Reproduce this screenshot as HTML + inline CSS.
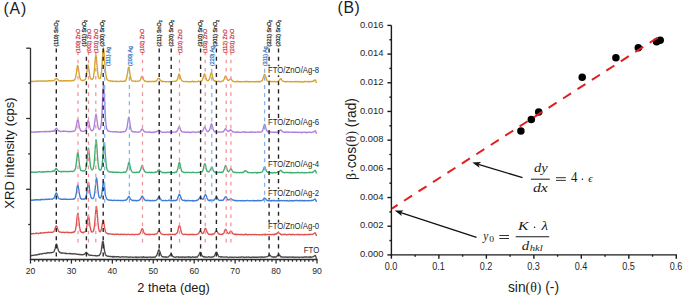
<!DOCTYPE html>
<html><head><meta charset="utf-8"><style>
html,body{margin:0;padding:0;background:#fff;width:685px;height:297px;overflow:hidden}
svg{display:block;font-family:"Liberation Sans",sans-serif}
</style></head><body>
<svg xmlns="http://www.w3.org/2000/svg" width="685" height="297" viewBox="0 0 685 297">
<rect width="685" height="297" fill="#fff"/>
<polyline fill="none" stroke="#4a4a4a" stroke-width="1.35" stroke-linejoin="round" points="30.5,256.16 31.0,255.84 31.5,255.70 32.0,255.27 32.5,255.47 33.0,255.38 33.5,255.34 34.0,255.16 34.5,255.18 35.0,255.01 35.5,254.77 36.0,255.07 36.5,254.98 37.0,255.04 37.5,254.65 38.0,254.47 38.5,254.35 39.0,254.08 39.5,254.44 40.0,253.98 40.5,253.87 41.0,253.96 41.5,254.17 42.0,253.86 42.5,253.55 43.0,253.52 43.5,253.68 44.0,253.47 44.5,253.28 45.0,253.31 45.5,253.41 46.0,253.57 46.5,252.93 47.0,252.98 47.5,252.89 48.0,252.55 48.5,252.77 49.0,252.71 49.5,253.05 50.0,252.78 50.5,252.47 51.0,252.84 51.5,252.62 52.0,252.32 52.5,252.45 53.0,252.32 53.5,252.02 54.0,251.65 54.5,250.23 55.0,248.95 55.5,247.04 56.0,244.96 56.5,244.10 57.0,245.03 57.5,247.18 58.0,248.87 58.5,250.88 59.0,251.43 59.5,252.21 60.0,252.25 60.5,252.93 61.0,253.08 61.5,252.88 62.0,253.29 62.5,252.90 63.0,253.10 63.5,253.14 64.0,252.97 64.5,253.28 65.0,253.59 65.5,253.10 66.0,253.48 66.5,253.33 67.0,253.72 67.5,253.53 68.0,253.60 68.5,253.63 69.0,253.60 69.5,253.35 70.0,253.89 70.5,253.43 71.0,253.77 71.5,253.88 72.0,253.66 72.5,253.88 73.0,254.10 73.5,253.93 74.0,253.82 74.5,253.50 75.0,253.89 75.5,254.00 76.0,254.06 76.5,254.03 77.0,254.31 77.5,254.18 78.0,254.31 78.5,254.49 79.0,254.26 79.5,254.40 80.0,254.88 80.5,254.69 81.0,254.34 81.5,254.59 82.0,254.74 82.5,254.88 83.0,254.68 83.5,254.52 84.0,254.34 84.5,254.29 85.0,253.75 85.5,252.99 86.0,252.51 86.5,252.35 87.0,252.96 87.5,253.39 88.0,254.27 88.5,254.82 89.0,255.07 89.5,255.01 90.0,255.50 90.5,255.21 91.0,255.46 91.5,255.30 92.0,255.16 92.5,255.56 93.0,255.61 93.5,255.57 94.0,255.67 94.5,255.53 95.0,255.53 95.5,255.65 96.0,256.04 96.5,255.85 97.0,255.61 97.5,255.79 98.0,255.57 98.5,255.52 99.0,255.65 99.5,255.19 100.0,254.50 100.5,253.63 101.0,251.92 101.5,248.96 102.0,245.47 102.5,241.87 103.0,241.20 103.5,243.27 104.0,246.85 104.5,250.57 105.0,253.10 105.5,254.41 106.0,255.57 106.5,255.56 107.0,256.01 107.5,256.14 108.0,256.31 108.5,256.18 109.0,256.37 109.5,256.41 110.0,256.66 110.5,256.38 111.0,256.57 111.5,256.55 112.0,256.39 112.5,257.13 113.0,256.66 113.5,256.43 114.0,256.98 114.5,256.55 115.0,256.83 115.5,256.94 116.0,256.69 116.5,256.74 117.0,256.74 117.5,256.83 118.0,256.57 118.5,256.66 119.0,256.87 119.5,257.09 120.0,257.03 120.5,257.24 121.0,257.07 121.5,256.86 122.0,256.94 122.5,256.61 123.0,256.81 123.5,256.81 124.0,257.05 124.5,257.13 125.0,256.92 125.5,256.92 126.0,256.75 126.5,257.02 127.0,257.09 127.5,257.13 128.0,256.92 128.5,257.42 129.0,257.28 129.5,257.06 130.0,256.99 130.5,257.03 131.0,257.12 131.5,257.09 132.0,257.19 132.5,257.24 133.0,257.35 133.5,257.32 134.0,257.09 134.5,257.19 135.0,257.05 135.5,257.02 136.0,257.47 136.5,257.04 137.0,257.49 137.5,257.07 138.0,257.18 138.5,257.33 139.0,257.14 139.5,257.21 140.0,257.10 140.5,257.06 141.0,257.11 141.5,257.03 142.0,257.44 142.5,257.11 143.0,257.45 143.5,256.66 144.0,257.15 144.5,257.24 145.0,257.09 145.5,257.34 146.0,257.26 146.5,257.09 147.0,257.22 147.5,257.64 148.0,257.18 148.5,257.18 149.0,257.05 149.5,257.14 150.0,256.88 150.5,257.07 151.0,257.54 151.5,257.28 152.0,257.19 152.5,257.26 153.0,257.38 153.5,257.12 154.0,257.36 154.5,257.13 155.0,256.89 155.5,257.03 156.0,256.01 156.5,255.78 157.0,254.97 157.5,253.35 158.0,251.79 158.5,250.28 159.0,249.74 159.5,250.87 160.0,251.84 160.5,253.37 161.0,255.03 161.5,255.74 162.0,256.53 162.5,256.74 163.0,257.12 163.5,256.65 164.0,257.09 164.5,257.00 165.0,256.79 165.5,257.20 166.0,256.86 166.5,257.31 167.0,257.10 167.5,257.10 168.0,256.92 168.5,256.92 169.0,256.12 169.5,255.96 170.0,255.14 170.5,254.58 171.0,254.10 171.5,254.42 172.0,254.81 172.5,256.04 173.0,256.72 173.5,256.65 174.0,256.89 174.5,257.05 175.0,257.28 175.5,257.42 176.0,256.88 176.5,257.00 177.0,256.93 177.5,256.93 178.0,256.84 178.5,257.21 179.0,256.94 179.5,257.42 180.0,257.31 180.5,256.97 181.0,256.97 181.5,257.05 182.0,257.41 182.5,257.01 183.0,256.89 183.5,257.15 184.0,257.23 184.5,257.04 185.0,257.45 185.5,257.21 186.0,257.24 186.5,257.01 187.0,257.15 187.5,257.13 188.0,256.75 188.5,257.21 189.0,256.83 189.5,257.15 190.0,256.89 190.5,257.51 191.0,257.21 191.5,257.30 192.0,257.30 192.5,256.90 193.0,256.72 193.5,257.06 194.0,257.27 194.5,257.11 195.0,257.22 195.5,257.23 196.0,256.76 196.5,257.03 197.0,257.24 197.5,256.60 198.0,255.95 198.5,255.60 199.0,254.54 199.5,253.51 200.0,252.33 200.5,252.40 201.0,252.80 201.5,254.54 202.0,255.75 202.5,256.44 203.0,256.36 203.5,256.91 204.0,256.42 204.5,257.06 205.0,257.03 205.5,256.88 206.0,257.14 206.5,257.11 207.0,257.26 207.5,257.12 208.0,257.14 208.5,256.75 209.0,256.89 209.5,257.01 210.0,257.14 210.5,257.07 211.0,257.33 211.5,256.89 212.0,256.97 212.5,257.02 213.0,256.85 213.5,256.81 214.0,256.26 214.5,255.97 215.0,254.65 215.5,253.65 216.0,252.34 216.5,252.29 217.0,252.48 217.5,254.06 218.0,255.08 218.5,256.07 219.0,256.76 219.5,256.61 220.0,256.70 220.5,256.83 221.0,257.09 221.5,256.73 222.0,257.11 222.5,256.87 223.0,256.91 223.5,257.06 224.0,257.20 224.5,257.03 225.0,257.06 225.5,257.14 226.0,257.11 226.5,256.68 227.0,257.09 227.5,257.18 228.0,257.37 228.5,257.54 229.0,257.29 229.5,257.19 230.0,257.00 230.5,257.19 231.0,257.32 231.5,257.41 232.0,257.02 232.5,257.22 233.0,257.33 233.5,257.52 234.0,257.23 234.5,257.09 235.0,257.06 235.5,257.12 236.0,257.07 236.5,257.33 237.0,257.38 237.5,257.32 238.0,257.40 238.5,257.10 239.0,257.26 239.5,257.12 240.0,257.19 240.5,257.41 241.0,257.18 241.5,256.85 242.0,257.14 242.5,257.06 243.0,256.92 243.5,257.05 244.0,257.36 244.5,257.49 245.0,257.10 245.5,257.37 246.0,257.40 246.5,256.98 247.0,257.18 247.5,257.18 248.0,257.22 248.5,256.90 249.0,257.13 249.5,257.38 250.0,257.42 250.5,257.52 251.0,257.13 251.5,257.52 252.0,257.31 252.5,256.94 253.0,257.32 253.5,257.12 254.0,257.28 254.5,257.17 255.0,257.40 255.5,257.23 256.0,257.13 256.5,257.36 257.0,257.23 257.5,257.11 258.0,257.41 258.5,257.11 259.0,257.06 259.5,257.08 260.0,256.91 260.5,257.07 261.0,257.51 261.5,257.00 262.0,257.17 262.5,256.96 263.0,257.04 263.5,257.42 264.0,257.30 264.5,257.02 265.0,257.12 265.5,256.95 266.0,256.92 266.5,256.82 267.0,256.66 267.5,256.60 268.0,256.20 268.5,255.63 269.0,255.02 269.5,254.67 270.0,255.21 270.5,255.59 271.0,256.44 271.5,256.75 272.0,257.01 272.5,256.92 273.0,256.71 273.5,257.22 274.0,257.28 274.5,256.78 275.0,257.04 275.5,257.17 276.0,256.63 276.5,256.86 277.0,256.02 277.5,255.26 278.0,255.04 278.5,254.46 279.0,254.47 279.5,255.34 280.0,255.51 280.5,256.73 281.0,256.60 281.5,256.99 282.0,256.96 282.5,257.16 283.0,257.26 283.5,256.97 284.0,257.27 284.5,257.09 285.0,257.03 285.5,257.12 286.0,256.98 286.5,257.02 287.0,257.34 287.5,257.14 288.0,257.38 288.5,257.25 289.0,256.99 289.5,256.84 290.0,257.06 290.5,257.23 291.0,257.18 291.5,257.03 292.0,257.37 292.5,256.87 293.0,256.96 293.5,257.21 294.0,257.58 294.5,257.26 295.0,257.01 295.5,257.29 296.0,257.31 296.5,257.36 297.0,257.11 297.5,257.04 298.0,257.21 298.5,257.26 299.0,257.48 299.5,257.56 300.0,257.06 300.5,257.09 301.0,257.18 301.5,257.14 302.0,257.28 302.5,257.28 303.0,257.23 303.5,257.43 304.0,257.16 304.5,257.00 305.0,256.90 305.5,257.00 306.0,256.99 306.5,256.84 307.0,257.30 307.5,257.21 308.0,257.10 308.5,257.01 309.0,256.88 309.5,257.00 310.0,257.49 310.5,256.75 311.0,257.16 311.5,257.25 312.0,257.09 312.5,256.92 313.0,256.93 313.5,256.31 314.0,256.23 314.5,256.02 315.0,255.41 315.5,255.61 316.0,257.15 316.5,258.88"/>
<polyline fill="none" stroke="#e0524f" stroke-width="1.35" stroke-linejoin="round" points="30.5,234.13 31.0,233.97 31.5,233.69 32.0,233.57 32.5,233.77 33.0,233.75 33.5,233.44 34.0,233.61 34.5,233.61 35.0,233.69 35.5,233.28 36.0,233.51 36.5,233.15 37.0,233.24 37.5,233.25 38.0,233.49 38.5,233.77 39.0,233.17 39.5,233.16 40.0,233.21 40.5,232.73 41.0,233.07 41.5,232.66 42.0,233.13 42.5,233.06 43.0,232.84 43.5,232.57 44.0,232.97 44.5,232.68 45.0,232.61 45.5,232.66 46.0,232.21 46.5,232.56 47.0,232.63 47.5,232.48 48.0,232.42 48.5,232.19 49.0,232.45 49.5,232.34 50.0,232.28 50.5,232.15 51.0,232.38 51.5,232.41 52.0,232.21 52.5,232.24 53.0,232.19 53.5,231.97 54.0,231.20 54.5,230.19 55.0,228.74 55.5,227.16 56.0,225.96 56.5,225.89 57.0,226.78 57.5,228.54 58.0,229.82 58.5,231.27 59.0,231.58 59.5,232.02 60.0,231.98 60.5,232.14 61.0,232.12 61.5,232.59 62.0,232.38 62.5,232.32 63.0,232.20 63.5,232.28 64.0,232.51 64.5,232.73 65.0,232.19 65.5,232.29 66.0,232.44 66.5,232.37 67.0,232.19 67.5,232.50 68.0,232.64 68.5,232.23 69.0,232.55 69.5,232.69 70.0,232.69 70.5,232.43 71.0,232.90 71.5,232.57 72.0,232.29 72.5,232.56 73.0,232.11 73.5,232.37 74.0,231.81 74.5,231.83 75.0,230.84 75.5,229.64 76.0,226.85 76.5,222.72 77.0,217.84 77.5,214.24 78.0,213.32 78.5,217.03 79.0,221.83 79.5,226.18 80.0,229.24 80.5,231.49 81.0,231.72 81.5,232.25 82.0,232.34 82.5,232.70 83.0,232.10 83.5,232.78 84.0,232.32 84.5,231.93 85.0,231.90 85.5,231.51 86.0,230.40 86.5,228.15 87.0,224.84 87.5,220.38 88.0,216.58 88.5,215.09 89.0,217.99 89.5,222.32 90.0,226.12 90.5,228.79 91.0,230.60 91.5,231.97 92.0,231.86 92.5,231.85 93.0,231.53 93.5,230.99 94.0,228.99 94.5,225.59 95.0,220.21 95.5,213.87 96.0,208.28 96.5,206.40 97.0,210.31 97.5,216.69 98.0,222.92 98.5,227.46 99.0,230.09 99.5,231.55 100.0,231.86 100.5,231.44 101.0,230.62 101.5,228.70 102.0,225.99 102.5,222.79 103.0,220.68 103.5,220.68 104.0,223.65 104.5,227.14 105.0,229.47 105.5,231.90 106.0,232.73 106.5,233.19 107.0,233.18 107.5,233.86 108.0,233.59 108.5,233.76 109.0,234.01 109.5,233.79 110.0,233.84 110.5,233.85 111.0,234.07 111.5,234.23 112.0,234.22 112.5,234.25 113.0,234.13 113.5,234.24 114.0,234.11 114.5,234.61 115.0,234.30 115.5,233.93 116.0,234.11 116.5,234.60 117.0,234.08 117.5,234.26 118.0,234.42 118.5,234.16 119.0,234.56 119.5,234.68 120.0,234.24 120.5,234.60 121.0,234.24 121.5,234.23 122.0,234.46 122.5,234.46 123.0,234.32 123.5,234.58 124.0,234.17 124.5,234.29 125.0,234.25 125.5,234.59 126.0,234.60 126.5,234.58 127.0,234.23 127.5,234.49 128.0,234.55 128.5,234.18 129.0,234.33 129.5,234.59 130.0,234.61 130.5,234.53 131.0,234.58 131.5,234.54 132.0,234.51 132.5,234.46 133.0,234.32 133.5,234.43 134.0,234.40 134.5,234.88 135.0,234.51 135.5,234.45 136.0,234.40 136.5,234.41 137.0,234.36 137.5,234.48 138.0,234.34 138.5,234.43 139.0,234.03 139.5,233.96 140.0,233.54 140.5,232.28 141.0,231.24 141.5,229.82 142.0,228.74 142.5,228.84 143.0,229.72 143.5,231.70 144.0,232.54 144.5,233.29 145.0,234.09 145.5,233.87 146.0,234.48 146.5,234.44 147.0,234.50 147.5,234.39 148.0,234.22 148.5,234.11 149.0,234.73 149.5,234.39 150.0,234.38 150.5,234.76 151.0,234.37 151.5,234.44 152.0,234.44 152.5,234.45 153.0,234.28 153.5,234.36 154.0,234.68 154.5,234.56 155.0,233.86 155.5,233.98 156.0,234.28 156.5,233.95 157.0,233.44 157.5,232.94 158.0,231.45 158.5,231.04 159.0,230.42 159.5,230.92 160.0,231.82 160.5,232.91 161.0,233.46 161.5,233.88 162.0,234.36 162.5,234.37 163.0,234.17 163.5,234.67 164.0,234.67 164.5,234.73 165.0,234.49 165.5,234.55 166.0,234.42 166.5,234.32 167.0,234.51 167.5,234.53 168.0,234.38 168.5,234.83 169.0,234.21 169.5,234.35 170.0,234.37 170.5,234.72 171.0,234.43 171.5,234.41 172.0,234.30 172.5,234.31 173.0,234.19 173.5,234.59 174.0,234.48 174.5,234.52 175.0,234.17 175.5,234.65 176.0,233.88 176.5,233.38 177.0,233.06 177.5,231.98 178.0,230.28 178.5,227.71 179.0,226.02 179.5,225.65 180.0,226.45 180.5,228.68 181.0,230.64 181.5,232.54 182.0,233.57 182.5,234.03 183.0,234.27 183.5,234.49 184.0,234.33 184.5,234.52 185.0,234.21 185.5,234.27 186.0,234.48 186.5,234.30 187.0,234.56 187.5,234.72 188.0,234.55 188.5,234.35 189.0,234.35 189.5,234.74 190.0,234.35 190.5,234.51 191.0,234.45 191.5,234.51 192.0,234.69 192.5,234.39 193.0,234.23 193.5,234.74 194.0,234.51 194.5,234.60 195.0,234.45 195.5,234.58 196.0,234.64 196.5,234.62 197.0,234.26 197.5,234.12 198.0,233.99 198.5,233.50 199.0,232.89 199.5,231.85 200.0,230.92 200.5,231.33 201.0,231.89 201.5,232.59 202.0,233.38 202.5,233.52 203.0,233.15 203.5,232.75 204.0,231.40 204.5,230.15 205.0,228.65 205.5,228.31 206.0,229.14 206.5,230.61 207.0,231.78 207.5,233.11 208.0,233.32 208.5,234.14 209.0,234.38 209.5,234.65 210.0,234.38 210.5,234.21 211.0,234.07 211.5,234.71 212.0,234.09 212.5,234.49 213.0,233.86 213.5,234.15 214.0,234.04 214.5,233.51 215.0,232.73 215.5,231.69 216.0,230.88 216.5,231.00 217.0,231.40 217.5,232.17 218.0,233.08 218.5,233.49 219.0,234.20 219.5,234.42 220.0,234.13 220.5,234.32 221.0,234.49 221.5,234.16 222.0,234.59 222.5,234.38 223.0,233.80 223.5,233.51 224.0,232.77 224.5,231.05 225.0,230.15 225.5,229.30 226.0,229.60 226.5,230.85 227.0,231.86 227.5,232.65 228.0,233.18 228.5,233.54 229.0,233.39 229.5,232.66 230.0,231.82 230.5,231.11 231.0,231.15 231.5,231.52 232.0,232.15 232.5,233.06 233.0,233.94 233.5,233.98 234.0,234.20 234.5,234.36 235.0,234.23 235.5,234.61 236.0,234.08 236.5,234.75 237.0,234.42 237.5,234.28 238.0,234.57 238.5,234.22 239.0,234.63 239.5,234.68 240.0,234.44 240.5,234.48 241.0,234.72 241.5,234.43 242.0,234.56 242.5,234.62 243.0,234.84 243.5,234.47 244.0,234.57 244.5,234.77 245.0,234.11 245.5,234.52 246.0,234.23 246.5,234.24 247.0,234.92 247.5,234.61 248.0,234.84 248.5,234.53 249.0,234.67 249.5,234.50 250.0,234.48 250.5,234.56 251.0,234.60 251.5,234.86 252.0,234.54 252.5,234.65 253.0,234.53 253.5,234.61 254.0,234.35 254.5,234.78 255.0,234.49 255.5,234.59 256.0,234.54 256.5,234.76 257.0,234.68 257.5,234.59 258.0,234.61 258.5,234.65 259.0,234.72 259.5,234.67 260.0,234.82 260.5,234.88 261.0,234.69 261.5,234.35 262.0,234.90 262.5,234.97 263.0,234.52 263.5,234.51 264.0,234.21 264.5,234.72 265.0,234.40 265.5,234.91 266.0,234.14 266.5,234.59 267.0,234.70 267.5,234.51 268.0,234.43 268.5,234.62 269.0,234.48 269.5,234.51 270.0,234.56 270.5,234.47 271.0,234.53 271.5,234.70 272.0,234.49 272.5,234.58 273.0,234.41 273.5,234.70 274.0,234.29 274.5,234.67 275.0,233.91 275.5,234.20 276.0,233.89 276.5,234.04 277.0,233.45 277.5,232.65 278.0,232.43 278.5,232.82 279.0,232.97 279.5,233.60 280.0,233.66 280.5,233.95 281.0,234.49 281.5,234.88 282.0,234.40 282.5,234.63 283.0,234.37 283.5,234.77 284.0,234.47 284.5,234.48 285.0,234.22 285.5,234.49 286.0,234.60 286.5,234.82 287.0,234.36 287.5,234.75 288.0,234.51 288.5,234.52 289.0,234.41 289.5,234.27 290.0,234.36 290.5,234.87 291.0,234.36 291.5,234.50 292.0,234.78 292.5,234.20 293.0,234.66 293.5,234.49 294.0,234.61 294.5,234.73 295.0,234.55 295.5,234.54 296.0,234.71 296.5,234.69 297.0,234.45 297.5,234.55 298.0,234.34 298.5,234.81 299.0,234.36 299.5,234.61 300.0,234.89 300.5,234.72 301.0,234.53 301.5,234.45 302.0,234.47 302.5,234.74 303.0,234.64 303.5,234.58 304.0,235.05 304.5,234.43 305.0,234.49 305.5,234.51 306.0,234.62 306.5,234.63 307.0,234.52 307.5,234.70 308.0,234.67 308.5,234.51 309.0,234.12 309.5,234.70 310.0,234.38 310.5,234.42 311.0,234.50 311.5,234.28 312.0,234.31 312.5,234.37 313.0,234.12 313.5,233.95 314.0,233.36 314.5,233.10 315.0,232.79 315.5,233.09 316.0,234.56 316.5,236.04"/>
<polyline fill="none" stroke="#3b7dd8" stroke-width="1.35" stroke-linejoin="round" points="30.5,199.96 31.0,200.16 31.5,200.20 32.0,200.35 32.5,200.11 33.0,200.02 33.5,199.86 34.0,200.40 34.5,199.84 35.0,199.78 35.5,199.92 36.0,199.59 36.5,200.08 37.0,199.89 37.5,199.92 38.0,199.62 38.5,199.67 39.0,199.89 39.5,199.87 40.0,200.18 40.5,199.84 41.0,199.27 41.5,199.60 42.0,199.49 42.5,199.72 43.0,199.48 43.5,199.56 44.0,199.39 44.5,199.53 45.0,199.66 45.5,199.26 46.0,198.98 46.5,199.14 47.0,199.58 47.5,199.32 48.0,199.21 48.5,199.07 49.0,199.41 49.5,199.25 50.0,199.16 50.5,199.05 51.0,199.10 51.5,199.04 52.0,199.16 52.5,199.22 53.0,198.52 53.5,198.37 54.0,198.13 54.5,197.29 55.0,195.69 55.5,194.33 56.0,193.16 56.5,193.02 57.0,194.07 57.5,195.67 58.0,197.22 58.5,198.16 59.0,198.69 59.5,198.91 60.0,198.87 60.5,198.99 61.0,199.25 61.5,199.18 62.0,199.33 62.5,199.25 63.0,199.24 63.5,199.32 64.0,198.98 64.5,199.24 65.0,199.17 65.5,199.44 66.0,199.17 66.5,199.34 67.0,199.23 67.5,199.40 68.0,199.44 68.5,199.28 69.0,199.33 69.5,199.34 70.0,199.45 70.5,199.24 71.0,199.29 71.5,199.19 72.0,199.06 72.5,199.23 73.0,199.22 73.5,198.91 74.0,199.20 74.5,198.52 75.0,198.22 75.5,197.00 76.0,194.56 76.5,191.77 77.0,187.85 77.5,185.24 78.0,185.07 78.5,187.78 79.0,191.22 79.5,194.08 80.0,196.56 80.5,198.21 81.0,198.62 81.5,199.21 82.0,198.90 82.5,198.99 83.0,198.87 83.5,199.03 84.0,199.28 84.5,198.77 85.0,198.83 85.5,198.21 86.0,197.11 86.5,194.75 87.0,191.41 87.5,187.56 88.0,183.23 88.5,182.50 89.0,185.01 89.5,188.96 90.0,193.15 90.5,195.19 91.0,197.36 91.5,198.03 92.0,198.49 92.5,198.59 93.0,198.53 93.5,197.76 94.0,196.86 94.5,194.05 95.0,190.64 95.5,185.32 96.0,180.14 96.5,177.96 97.0,180.14 97.5,185.19 98.0,190.48 98.5,194.56 99.0,196.81 99.5,197.59 100.0,197.81 100.5,198.03 101.0,197.05 101.5,195.53 102.0,192.39 102.5,188.74 103.0,183.55 103.5,181.41 104.0,182.90 104.5,186.54 105.0,191.07 105.5,195.21 106.0,196.91 106.5,198.28 107.0,199.02 107.5,199.63 108.0,199.89 108.5,199.85 109.0,200.36 109.5,200.00 110.0,200.10 110.5,200.10 111.0,200.42 111.5,200.23 112.0,200.19 112.5,200.59 113.0,200.55 113.5,200.52 114.0,200.13 114.5,200.18 115.0,200.34 115.5,200.36 116.0,200.34 116.5,200.39 117.0,200.55 117.5,200.26 118.0,200.50 118.5,200.39 119.0,200.38 119.5,200.42 120.0,200.61 120.5,200.53 121.0,200.34 121.5,200.54 122.0,200.51 122.5,200.56 123.0,200.43 123.5,200.65 124.0,200.53 124.5,200.23 125.0,200.17 125.5,200.08 126.0,200.27 126.5,199.78 127.0,199.31 127.5,198.53 128.0,197.72 128.5,196.98 129.0,196.30 129.5,197.27 130.0,198.03 130.5,199.14 131.0,199.59 131.5,199.84 132.0,200.38 132.5,200.63 133.0,200.17 133.5,200.47 134.0,200.54 134.5,200.62 135.0,200.32 135.5,200.42 136.0,200.69 136.5,200.84 137.0,200.52 137.5,200.66 138.0,200.49 138.5,200.49 139.0,200.25 139.5,200.07 140.0,199.60 140.5,199.02 141.0,198.18 141.5,196.89 142.0,196.20 142.5,196.06 143.0,197.20 143.5,197.64 144.0,198.92 144.5,199.76 145.0,199.86 145.5,200.47 146.0,200.49 146.5,200.33 147.0,200.54 147.5,200.27 148.0,200.39 148.5,200.50 149.0,200.29 149.5,200.77 150.0,200.47 150.5,200.77 151.0,200.56 151.5,200.65 152.0,200.42 152.5,200.53 153.0,200.50 153.5,200.61 154.0,200.80 154.5,200.43 155.0,200.47 155.5,200.51 156.0,200.49 156.5,200.08 157.0,199.59 157.5,198.84 158.0,198.00 158.5,197.14 159.0,196.58 159.5,197.05 160.0,198.14 160.5,198.94 161.0,199.56 161.5,200.24 162.0,200.47 162.5,200.57 163.0,200.63 163.5,200.47 164.0,200.60 164.5,200.63 165.0,200.61 165.5,200.28 166.0,200.60 166.5,200.67 167.0,200.70 167.5,200.56 168.0,200.62 168.5,200.29 169.0,200.35 169.5,200.08 170.0,200.57 170.5,200.90 171.0,200.92 171.5,200.39 172.0,200.71 172.5,200.81 173.0,200.51 173.5,200.20 174.0,200.79 174.5,200.44 175.0,200.40 175.5,200.72 176.0,200.39 176.5,200.24 177.0,199.93 177.5,198.79 178.0,197.36 178.5,196.08 179.0,194.54 179.5,194.27 180.0,195.10 180.5,196.46 181.0,198.11 181.5,199.14 182.0,199.82 182.5,200.19 183.0,200.42 183.5,200.48 184.0,200.26 184.5,200.64 185.0,200.29 185.5,200.96 186.0,200.44 186.5,200.58 187.0,200.84 187.5,200.57 188.0,200.38 188.5,200.35 189.0,200.67 189.5,200.69 190.0,200.77 190.5,200.67 191.0,200.53 191.5,200.70 192.0,200.87 192.5,200.46 193.0,201.25 193.5,200.52 194.0,200.81 194.5,200.92 195.0,200.73 195.5,200.60 196.0,200.65 196.5,200.72 197.0,199.93 197.5,200.35 198.0,199.91 198.5,199.36 199.0,198.76 199.5,197.89 200.0,197.25 200.5,196.95 201.0,197.81 201.5,198.04 202.0,198.91 202.5,199.20 203.0,199.33 203.5,198.60 204.0,197.66 204.5,195.96 205.0,195.03 205.5,194.56 206.0,195.19 206.5,196.46 207.0,197.97 207.5,198.95 208.0,200.07 208.5,200.30 209.0,200.08 209.5,200.73 210.0,200.37 210.5,200.04 211.0,200.66 211.5,200.70 212.0,200.46 212.5,200.28 213.0,200.61 213.5,200.19 214.0,200.03 214.5,199.67 215.0,198.94 215.5,197.93 216.0,197.05 216.5,197.15 217.0,197.11 217.5,198.43 218.0,199.24 218.5,199.89 219.0,200.08 219.5,200.37 220.0,200.55 220.5,200.25 221.0,200.45 221.5,200.50 222.0,200.16 222.5,200.13 223.0,200.38 223.5,199.88 224.0,198.87 224.5,198.19 225.0,197.16 225.5,196.77 226.0,196.98 226.5,197.20 227.0,198.57 227.5,199.64 228.0,200.14 228.5,199.88 229.0,199.66 229.5,199.61 230.0,199.00 230.5,198.72 231.0,198.40 231.5,199.04 232.0,199.49 232.5,199.93 233.0,199.99 233.5,200.09 234.0,200.27 234.5,200.64 235.0,200.26 235.5,200.72 236.0,200.93 236.5,200.51 237.0,200.60 237.5,200.81 238.0,200.81 238.5,200.54 239.0,200.62 239.5,200.68 240.0,200.61 240.5,200.76 241.0,200.72 241.5,200.90 242.0,200.36 242.5,200.88 243.0,200.82 243.5,200.65 244.0,200.75 244.5,200.85 245.0,200.73 245.5,200.63 246.0,200.73 246.5,200.55 247.0,200.44 247.5,200.52 248.0,200.54 248.5,200.71 249.0,200.82 249.5,200.72 250.0,200.94 250.5,200.66 251.0,200.56 251.5,200.55 252.0,200.52 252.5,200.62 253.0,200.92 253.5,200.41 254.0,200.77 254.5,200.67 255.0,200.82 255.5,200.59 256.0,200.80 256.5,200.58 257.0,200.78 257.5,200.31 258.0,200.75 258.5,200.79 259.0,200.36 259.5,200.79 260.0,200.42 260.5,200.78 261.0,200.57 261.5,200.63 262.0,200.45 262.5,199.90 263.0,199.97 263.5,199.31 264.0,198.29 264.5,198.22 265.0,198.37 265.5,198.72 266.0,199.28 266.5,200.20 267.0,200.23 267.5,200.64 268.0,200.90 268.5,200.69 269.0,200.47 269.5,200.82 270.0,200.41 270.5,200.50 271.0,201.20 271.5,200.53 272.0,200.74 272.5,200.49 273.0,200.66 273.5,200.72 274.0,200.21 274.5,200.57 275.0,200.81 275.5,200.85 276.0,200.76 276.5,200.53 277.0,200.77 277.5,200.61 278.0,200.56 278.5,200.70 279.0,201.11 279.5,200.54 280.0,200.89 280.5,200.75 281.0,200.43 281.5,200.54 282.0,200.67 282.5,200.62 283.0,200.75 283.5,200.52 284.0,200.52 284.5,200.88 285.0,200.70 285.5,200.55 286.0,200.70 286.5,201.03 287.0,200.60 287.5,200.43 288.0,200.87 288.5,201.06 289.0,200.93 289.5,200.47 290.0,200.33 290.5,200.93 291.0,200.67 291.5,200.79 292.0,200.67 292.5,201.00 293.0,200.71 293.5,200.64 294.0,200.72 294.5,200.48 295.0,200.73 295.5,200.68 296.0,200.32 296.5,200.49 297.0,200.47 297.5,200.41 298.0,200.76 298.5,200.90 299.0,200.75 299.5,200.43 300.0,200.37 300.5,200.83 301.0,200.64 301.5,200.67 302.0,200.46 302.5,200.32 303.0,201.09 303.5,200.58 304.0,200.65 304.5,200.48 305.0,200.96 305.5,200.62 306.0,200.65 306.5,200.69 307.0,200.68 307.5,200.93 308.0,200.35 308.5,200.78 309.0,200.56 309.5,200.59 310.0,200.54 310.5,200.72 311.0,200.40 311.5,200.52 312.0,200.67 312.5,200.38 313.0,200.23 313.5,200.11 314.0,199.70 314.5,199.28 315.0,199.20 315.5,199.19 316.0,200.84 316.5,202.05"/>
<polyline fill="none" stroke="#3fae72" stroke-width="1.35" stroke-linejoin="round" points="30.5,172.07 31.0,172.41 31.5,172.08 32.0,172.13 32.5,172.24 33.0,172.39 33.5,172.15 34.0,172.14 34.5,172.12 35.0,172.24 35.5,172.06 36.0,172.18 36.5,172.36 37.0,172.05 37.5,172.00 38.0,171.88 38.5,171.88 39.0,171.78 39.5,171.78 40.0,171.85 40.5,171.99 41.0,172.00 41.5,171.81 42.0,171.93 42.5,171.61 43.0,172.20 43.5,172.25 44.0,171.77 44.5,171.86 45.0,171.77 45.5,171.87 46.0,171.60 46.5,171.43 47.0,171.83 47.5,171.48 48.0,171.72 48.5,171.48 49.0,171.49 49.5,171.79 50.0,171.89 50.5,171.56 51.0,171.50 51.5,171.61 52.0,171.44 52.5,171.19 53.0,171.44 53.5,170.92 54.0,171.15 54.5,170.55 55.0,170.02 55.5,168.95 56.0,168.47 56.5,168.64 57.0,169.31 57.5,169.99 58.0,170.60 58.5,170.81 59.0,171.39 59.5,171.45 60.0,171.44 60.5,171.77 61.0,171.42 61.5,171.89 62.0,171.47 62.5,171.47 63.0,171.59 63.5,171.37 64.0,171.53 64.5,171.63 65.0,171.32 65.5,171.47 66.0,171.37 66.5,171.54 67.0,171.83 67.5,171.54 68.0,171.58 68.5,171.65 69.0,171.40 69.5,171.62 70.0,171.47 70.5,171.43 71.0,171.21 71.5,171.37 72.0,171.62 72.5,171.59 73.0,171.24 73.5,171.19 74.0,170.91 74.5,170.43 75.0,169.55 75.5,168.67 76.0,165.47 76.5,161.63 77.0,157.09 77.5,152.97 78.0,152.59 78.5,155.93 79.0,160.57 79.5,164.95 80.0,167.81 80.5,169.77 81.0,170.50 81.5,170.58 82.0,170.73 82.5,170.93 83.0,170.95 83.5,170.90 84.0,171.11 84.5,170.65 85.0,170.34 85.5,169.69 86.0,167.73 86.5,165.24 87.0,160.69 87.5,155.14 88.0,149.70 88.5,148.31 89.0,151.60 89.5,157.03 90.0,162.15 90.5,166.41 91.0,168.42 91.5,169.58 92.0,169.67 92.5,169.92 93.0,169.05 93.5,167.42 94.0,164.52 94.5,159.18 95.0,151.37 95.5,143.96 96.0,139.63 96.5,141.42 97.0,148.08 97.5,156.33 98.0,162.74 98.5,166.40 99.0,169.02 99.5,169.64 100.0,170.00 100.5,170.20 101.0,169.60 101.5,168.60 102.0,165.85 102.5,161.44 103.0,154.89 103.5,147.70 104.0,142.81 104.5,143.46 105.0,149.14 105.5,156.73 106.0,162.79 106.5,167.21 107.0,169.45 107.5,170.49 108.0,170.95 108.5,171.41 109.0,171.85 109.5,171.78 110.0,172.04 110.5,171.94 111.0,171.97 111.5,171.96 112.0,171.79 112.5,172.24 113.0,172.23 113.5,172.24 114.0,172.42 114.5,172.13 115.0,172.63 115.5,172.08 116.0,172.40 116.5,172.16 117.0,172.33 117.5,172.60 118.0,172.13 118.5,172.44 119.0,172.43 119.5,172.45 120.0,172.46 120.5,172.56 121.0,172.50 121.5,172.47 122.0,172.56 122.5,172.50 123.0,172.34 123.5,172.12 124.0,172.44 124.5,172.19 125.0,172.47 125.5,171.93 126.0,171.52 126.5,171.34 127.0,169.85 127.5,167.85 128.0,165.90 128.5,163.08 129.0,162.54 129.5,163.17 130.0,165.76 130.5,168.17 131.0,169.67 131.5,171.14 132.0,171.68 132.5,172.07 133.0,172.28 133.5,172.55 134.0,172.27 134.5,172.33 135.0,172.76 135.5,172.51 136.0,172.53 136.5,172.11 137.0,172.13 137.5,172.26 138.0,172.28 138.5,172.33 139.0,172.59 139.5,171.56 140.0,171.08 140.5,170.17 141.0,168.53 141.5,166.93 142.0,165.47 142.5,165.51 143.0,167.45 143.5,168.92 144.0,170.13 144.5,171.28 145.0,171.90 145.5,171.92 146.0,172.46 146.5,172.42 147.0,172.37 147.5,172.35 148.0,172.79 148.5,172.50 149.0,172.39 149.5,172.17 150.0,172.35 150.5,172.68 151.0,172.82 151.5,172.35 152.0,172.19 152.5,172.56 153.0,172.55 153.5,172.70 154.0,172.41 154.5,172.54 155.0,172.16 155.5,172.23 156.0,172.24 156.5,172.04 157.0,171.83 157.5,171.36 158.0,170.19 158.5,170.20 159.0,169.71 159.5,170.24 160.0,171.21 160.5,171.20 161.0,171.81 161.5,172.17 162.0,172.46 162.5,172.70 163.0,172.73 163.5,172.39 164.0,172.70 164.5,172.50 165.0,172.85 165.5,172.54 166.0,172.78 166.5,172.41 167.0,172.73 167.5,172.35 168.0,172.61 168.5,172.30 169.0,172.56 169.5,172.44 170.0,172.40 170.5,172.61 171.0,172.70 171.5,172.57 172.0,172.60 172.5,172.65 173.0,172.72 173.5,172.66 174.0,172.52 174.5,172.77 175.0,172.26 175.5,172.40 176.0,171.89 176.5,172.19 177.0,171.02 177.5,169.82 178.0,168.06 178.5,165.31 179.0,163.02 179.5,162.21 180.0,163.88 180.5,166.72 181.0,168.71 181.5,170.70 182.0,171.55 182.5,171.84 183.0,171.92 183.5,172.26 184.0,172.48 184.5,172.38 185.0,172.49 185.5,172.59 186.0,172.44 186.5,172.26 187.0,172.48 187.5,172.65 188.0,172.41 188.5,172.38 189.0,172.39 189.5,172.54 190.0,172.56 190.5,172.57 191.0,172.36 191.5,172.59 192.0,172.47 192.5,172.42 193.0,172.25 193.5,172.38 194.0,172.47 194.5,172.60 195.0,172.64 195.5,172.57 196.0,172.60 196.5,172.35 197.0,172.68 197.5,172.67 198.0,172.64 198.5,172.40 199.0,172.45 199.5,172.35 200.0,172.16 200.5,172.28 201.0,171.97 201.5,171.76 202.0,171.84 202.5,171.14 203.0,169.95 203.5,167.87 204.0,165.77 204.5,164.13 205.0,163.77 205.5,164.95 206.0,167.87 206.5,169.62 207.0,170.96 207.5,171.50 208.0,171.67 208.5,171.90 209.0,171.78 209.5,171.05 210.0,170.39 210.5,169.37 211.0,168.18 211.5,167.10 212.0,167.05 212.5,167.99 213.0,169.98 213.5,170.81 214.0,171.72 214.5,172.03 215.0,172.00 215.5,172.74 216.0,172.52 216.5,172.65 217.0,172.31 217.5,172.46 218.0,172.72 218.5,172.42 219.0,172.35 219.5,172.27 220.0,172.21 220.5,172.58 221.0,172.39 221.5,172.03 222.0,172.54 222.5,172.33 223.0,171.95 223.5,170.71 224.0,169.89 224.5,168.50 225.0,166.41 225.5,165.49 226.0,166.01 226.5,167.16 227.0,169.22 227.5,170.66 228.0,171.36 228.5,171.73 229.0,171.24 229.5,170.61 230.0,169.74 230.5,168.90 231.0,168.63 231.5,169.22 232.0,170.24 232.5,171.02 233.0,171.77 233.5,172.15 234.0,172.45 234.5,172.34 235.0,172.11 235.5,172.34 236.0,172.88 236.5,172.69 237.0,172.49 237.5,172.54 238.0,172.56 238.5,172.50 239.0,172.62 239.5,172.71 240.0,172.81 240.5,172.52 241.0,172.52 241.5,172.50 242.0,172.53 242.5,172.64 243.0,172.17 243.5,172.43 244.0,171.73 244.5,171.35 245.0,170.61 245.5,170.67 246.0,170.97 246.5,171.55 247.0,171.60 247.5,172.36 248.0,172.14 248.5,172.60 249.0,172.75 249.5,172.58 250.0,172.58 250.5,172.58 251.0,172.58 251.5,172.67 252.0,172.79 252.5,172.75 253.0,172.91 253.5,172.65 254.0,172.54 254.5,172.55 255.0,172.41 255.5,172.56 256.0,172.52 256.5,172.95 257.0,172.71 257.5,172.94 258.0,172.26 258.5,172.64 259.0,172.76 259.5,172.61 260.0,172.44 260.5,172.51 261.0,172.42 261.5,172.28 262.0,172.00 262.5,171.53 263.0,170.40 263.5,169.04 264.0,167.56 264.5,166.83 265.0,166.99 265.5,168.50 266.0,169.79 266.5,171.17 267.0,171.66 267.5,172.16 268.0,172.33 268.5,172.28 269.0,172.70 269.5,172.62 270.0,172.58 270.5,172.81 271.0,172.55 271.5,172.61 272.0,172.82 272.5,173.07 273.0,172.65 273.5,172.93 274.0,172.67 274.5,172.49 275.0,172.73 275.5,172.85 276.0,172.66 276.5,172.69 277.0,172.39 277.5,172.13 278.0,172.48 278.5,171.98 279.0,171.87 279.5,171.27 280.0,170.86 280.5,170.60 281.0,170.19 281.5,170.90 282.0,171.46 282.5,172.20 283.0,172.29 283.5,172.31 284.0,172.44 284.5,172.91 285.0,172.45 285.5,172.63 286.0,172.68 286.5,172.44 287.0,172.50 287.5,172.30 288.0,172.49 288.5,172.78 289.0,172.70 289.5,172.33 290.0,172.92 290.5,172.43 291.0,172.50 291.5,172.96 292.0,172.76 292.5,172.66 293.0,172.94 293.5,172.66 294.0,172.74 294.5,172.58 295.0,172.66 295.5,172.67 296.0,172.88 296.5,172.57 297.0,172.65 297.5,172.29 298.0,172.37 298.5,172.81 299.0,172.61 299.5,172.62 300.0,172.79 300.5,172.62 301.0,172.70 301.5,172.63 302.0,172.32 302.5,172.79 303.0,172.94 303.5,172.89 304.0,172.69 304.5,172.72 305.0,172.74 305.5,172.94 306.0,172.88 306.5,172.60 307.0,172.64 307.5,172.62 308.0,172.55 308.5,172.54 309.0,172.62 309.5,172.21 310.0,172.70 310.5,172.54 311.0,172.39 311.5,172.54 312.0,172.39 312.5,172.64 313.0,172.02 313.5,171.88 314.0,171.43 314.5,170.66 315.0,170.20 315.5,170.54 316.0,171.84 316.5,173.51"/>
<polyline fill="none" stroke="#ad7fdc" stroke-width="1.35" stroke-linejoin="round" points="30.5,131.76 31.0,132.11 31.5,132.25 32.0,131.88 32.5,132.05 33.0,132.14 33.5,132.10 34.0,131.81 34.5,131.99 35.0,132.00 35.5,132.31 36.0,131.88 36.5,132.01 37.0,131.96 37.5,131.91 38.0,131.60 38.5,131.81 39.0,132.01 39.5,131.66 40.0,131.75 40.5,131.56 41.0,131.73 41.5,131.72 42.0,131.77 42.5,131.56 43.0,131.54 43.5,131.50 44.0,131.63 44.5,131.60 45.0,131.95 45.5,131.43 46.0,131.64 46.5,131.41 47.0,131.42 47.5,131.67 48.0,131.55 48.5,131.55 49.0,131.22 49.5,131.89 50.0,131.79 50.5,131.29 51.0,131.16 51.5,131.25 52.0,131.40 52.5,131.16 53.0,131.31 53.5,131.02 54.0,131.35 54.5,130.36 55.0,129.62 55.5,129.23 56.0,128.29 56.5,128.16 57.0,128.72 57.5,129.64 58.0,130.21 58.5,130.82 59.0,131.00 59.5,131.01 60.0,131.27 60.5,131.39 61.0,131.66 61.5,131.44 62.0,131.36 62.5,131.45 63.0,131.54 63.5,131.05 64.0,131.38 64.5,131.08 65.0,131.15 65.5,131.33 66.0,131.44 66.5,131.47 67.0,131.49 67.5,131.70 68.0,131.54 68.5,131.53 69.0,131.40 69.5,131.79 70.0,131.67 70.5,131.33 71.0,131.32 71.5,131.53 72.0,131.55 72.5,131.28 73.0,131.48 73.5,131.01 74.0,131.07 74.5,131.05 75.0,130.31 75.5,129.49 76.0,127.76 76.5,125.18 77.0,121.91 77.5,119.82 78.0,119.65 78.5,121.70 79.0,124.77 79.5,127.48 80.0,129.12 80.5,130.21 81.0,131.07 81.5,131.18 82.0,131.14 82.5,131.15 83.0,131.39 83.5,131.39 84.0,131.14 84.5,131.14 85.0,130.84 85.5,130.35 86.0,129.70 86.5,127.45 87.0,125.35 87.5,122.31 88.0,120.49 88.5,120.98 89.0,122.73 89.5,125.50 90.0,127.75 90.5,129.34 91.0,130.30 91.5,130.78 92.0,130.52 92.5,130.65 93.0,129.85 93.5,129.45 94.0,127.09 94.5,123.99 95.0,120.05 95.5,116.09 96.0,114.27 96.5,115.68 97.0,119.97 97.5,123.91 98.0,126.69 98.5,128.31 99.0,129.34 99.5,129.64 100.0,128.80 100.5,127.87 101.0,125.72 101.5,120.87 102.0,113.02 102.5,102.14 103.0,90.93 103.5,84.44 104.0,87.48 104.5,97.69 105.0,109.05 105.5,118.08 106.0,124.56 106.5,127.85 107.0,129.45 107.5,130.04 108.0,130.93 108.5,130.59 109.0,131.23 109.5,131.36 110.0,131.54 110.5,131.72 111.0,131.65 111.5,131.69 112.0,131.64 112.5,131.88 113.0,131.85 113.5,131.96 114.0,131.65 114.5,131.61 115.0,131.91 115.5,132.01 116.0,131.66 116.5,131.77 117.0,131.90 117.5,132.02 118.0,132.03 118.5,132.16 119.0,131.96 119.5,132.06 120.0,132.21 120.5,131.93 121.0,132.37 121.5,131.89 122.0,131.96 122.5,131.58 123.0,131.87 123.5,131.74 124.0,131.66 124.5,131.74 125.0,131.35 125.5,131.31 126.0,130.35 126.5,129.45 127.0,127.69 127.5,124.36 128.0,120.77 128.5,117.62 129.0,117.23 129.5,120.22 130.0,123.81 130.5,127.08 131.0,129.22 131.5,130.75 132.0,131.14 132.5,131.66 133.0,131.82 133.5,131.65 134.0,132.12 134.5,131.95 135.0,132.11 135.5,131.73 136.0,131.81 136.5,131.96 137.0,132.13 137.5,132.24 138.0,132.10 138.5,131.99 139.0,132.06 139.5,131.79 140.0,131.59 140.5,131.16 141.0,130.30 141.5,129.74 142.0,128.90 142.5,129.08 143.0,129.94 143.5,130.48 144.0,131.32 144.5,131.71 145.0,131.88 145.5,132.30 146.0,132.18 146.5,132.03 147.0,132.06 147.5,132.18 148.0,131.91 148.5,132.38 149.0,132.18 149.5,131.89 150.0,132.03 150.5,132.45 151.0,132.24 151.5,132.58 152.0,132.21 152.5,132.28 153.0,132.54 153.5,132.57 154.0,132.02 154.5,132.33 155.0,131.96 155.5,132.02 156.0,131.70 156.5,131.92 157.0,131.31 157.5,130.88 158.0,130.83 158.5,130.29 159.0,130.15 159.5,130.28 160.0,131.18 160.5,131.17 161.0,131.71 161.5,132.16 162.0,132.27 162.5,132.19 163.0,132.33 163.5,132.23 164.0,132.07 164.5,132.22 165.0,132.52 165.5,132.21 166.0,132.28 166.5,132.32 167.0,131.98 167.5,132.05 168.0,131.95 168.5,132.29 169.0,132.16 169.5,132.01 170.0,132.00 170.5,132.35 171.0,132.36 171.5,132.28 172.0,132.20 172.5,132.28 173.0,132.18 173.5,132.23 174.0,132.07 174.5,131.94 175.0,131.95 175.5,132.07 176.0,132.21 176.5,131.52 177.0,131.00 177.5,130.50 178.0,129.32 178.5,127.76 179.0,126.88 179.5,126.99 180.0,128.19 180.5,129.99 181.0,130.44 181.5,131.37 182.0,131.64 182.5,131.96 183.0,132.11 183.5,132.14 184.0,131.94 184.5,131.97 185.0,132.32 185.5,132.22 186.0,132.22 186.5,132.29 187.0,132.07 187.5,132.41 188.0,132.06 188.5,132.02 189.0,132.04 189.5,132.19 190.0,132.68 190.5,132.22 191.0,132.27 191.5,132.48 192.0,132.15 192.5,131.96 193.0,132.10 193.5,132.14 194.0,131.91 194.5,132.15 195.0,132.21 195.5,132.55 196.0,132.33 196.5,132.20 197.0,132.08 197.5,132.03 198.0,131.83 198.5,132.11 199.0,131.72 199.5,132.07 200.0,132.36 200.5,131.96 201.0,132.04 201.5,131.70 202.0,131.28 202.5,131.19 203.0,130.28 203.5,129.24 204.0,127.89 204.5,127.08 205.0,126.98 205.5,128.16 206.0,129.51 206.5,130.30 207.0,131.02 207.5,131.61 208.0,131.60 208.5,131.34 209.0,130.67 209.5,130.00 210.0,128.85 210.5,126.58 211.0,124.76 211.5,123.82 212.0,124.80 212.5,126.70 213.0,128.70 213.5,130.03 214.0,130.87 214.5,131.92 215.0,131.82 215.5,131.75 216.0,131.94 216.5,132.10 217.0,132.24 217.5,132.12 218.0,132.03 218.5,132.19 219.0,131.86 219.5,131.94 220.0,132.32 220.5,132.14 221.0,132.08 221.5,131.96 222.0,131.83 222.5,131.99 223.0,131.78 223.5,131.74 224.0,130.72 224.5,130.08 225.0,129.21 225.5,128.64 226.0,129.32 226.5,129.95 227.0,130.53 227.5,130.87 228.0,131.48 228.5,131.52 229.0,131.06 229.5,130.41 230.0,130.49 230.5,129.65 231.0,130.23 231.5,130.43 232.0,131.04 232.5,131.74 233.0,131.65 233.5,131.96 234.0,132.09 234.5,132.34 235.0,132.34 235.5,132.20 236.0,131.97 236.5,132.41 237.0,132.13 237.5,132.26 238.0,131.89 238.5,132.19 239.0,132.31 239.5,132.17 240.0,132.34 240.5,132.46 241.0,132.51 241.5,132.14 242.0,131.97 242.5,131.81 243.0,132.18 243.5,131.95 244.0,132.32 244.5,131.87 245.0,132.43 245.5,132.25 246.0,131.96 246.5,132.29 247.0,132.34 247.5,132.34 248.0,132.24 248.5,132.35 249.0,132.33 249.5,132.18 250.0,132.25 250.5,132.00 251.0,132.37 251.5,132.00 252.0,132.19 252.5,132.02 253.0,132.39 253.5,132.25 254.0,132.03 254.5,132.26 255.0,132.16 255.5,132.31 256.0,132.20 256.5,132.17 257.0,132.13 257.5,131.87 258.0,132.23 258.5,132.26 259.0,131.93 259.5,132.16 260.0,132.24 260.5,132.14 261.0,132.10 261.5,131.84 262.0,131.20 262.5,130.86 263.0,129.16 263.5,127.21 264.0,125.67 264.5,124.20 265.0,124.97 265.5,126.38 266.0,128.67 266.5,130.25 267.0,130.94 267.5,131.67 268.0,131.96 268.5,131.95 269.0,132.12 269.5,132.06 270.0,132.00 270.5,131.96 271.0,132.20 271.5,132.27 272.0,132.33 272.5,132.28 273.0,132.32 273.5,132.14 274.0,132.51 274.5,132.06 275.0,132.34 275.5,132.18 276.0,132.15 276.5,132.55 277.0,132.26 277.5,131.92 278.0,132.08 278.5,131.73 279.0,131.77 279.5,130.78 280.0,130.36 280.5,129.86 281.0,129.90 281.5,130.59 282.0,131.25 282.5,131.76 283.0,131.85 283.5,131.96 284.0,132.25 284.5,132.13 285.0,132.49 285.5,131.99 286.0,132.32 286.5,132.04 287.0,132.09 287.5,131.98 288.0,132.04 288.5,132.36 289.0,132.15 289.5,132.08 290.0,132.06 290.5,132.11 291.0,132.20 291.5,132.43 292.0,132.28 292.5,132.27 293.0,132.26 293.5,132.40 294.0,132.11 294.5,132.33 295.0,132.08 295.5,132.09 296.0,132.39 296.5,132.29 297.0,132.25 297.5,132.11 298.0,132.36 298.5,132.66 299.0,132.38 299.5,132.38 300.0,132.27 300.5,132.49 301.0,132.22 301.5,132.80 302.0,132.33 302.5,132.30 303.0,132.50 303.5,132.09 304.0,132.17 304.5,132.16 305.0,132.25 305.5,132.59 306.0,132.12 306.5,132.72 307.0,132.45 307.5,132.56 308.0,132.32 308.5,132.01 309.0,132.07 309.5,132.50 310.0,132.21 310.5,132.33 311.0,132.31 311.5,132.50 312.0,132.44 312.5,132.21 313.0,132.04 313.5,131.99 314.0,131.32 314.5,131.05 315.0,130.71 315.5,130.80 316.0,131.97 316.5,133.93"/>
<polyline fill="none" stroke="#d6a42a" stroke-width="1.35" stroke-linejoin="round" points="30.5,81.39 31.0,81.74 31.5,81.36 32.0,81.45 32.5,81.30 33.0,81.50 33.5,81.46 34.0,81.28 34.5,81.37 35.0,81.17 35.5,81.19 36.0,81.09 36.5,81.40 37.0,81.06 37.5,81.02 38.0,81.36 38.5,81.15 39.0,80.91 39.5,80.94 40.0,81.01 40.5,80.90 41.0,81.06 41.5,80.85 42.0,80.83 42.5,81.16 43.0,81.30 43.5,81.22 44.0,80.91 44.5,81.06 45.0,80.91 45.5,81.25 46.0,80.97 46.5,80.99 47.0,81.23 47.5,81.11 48.0,80.90 48.5,80.69 49.0,80.79 49.5,80.60 50.0,81.13 50.5,80.80 51.0,80.94 51.5,80.84 52.0,80.66 52.5,80.81 53.0,80.79 53.5,80.63 54.0,80.45 54.5,80.20 55.0,79.51 55.5,79.10 56.0,78.61 56.5,78.51 57.0,79.04 57.5,79.19 58.0,79.82 58.5,80.37 59.0,80.88 59.5,80.81 60.0,80.63 60.5,81.04 61.0,80.83 61.5,80.69 62.0,80.80 62.5,81.09 63.0,80.97 63.5,80.71 64.0,80.65 64.5,80.95 65.0,80.64 65.5,80.76 66.0,80.97 66.5,80.66 67.0,80.70 67.5,80.88 68.0,80.78 68.5,81.05 69.0,80.82 69.5,80.91 70.0,80.91 70.5,80.67 71.0,80.90 71.5,80.95 72.0,80.65 72.5,80.53 73.0,80.51 73.5,80.70 74.0,80.28 74.5,79.86 75.0,79.04 75.5,77.86 76.0,75.24 76.5,72.19 77.0,68.06 77.5,65.35 78.0,66.06 78.5,68.97 79.0,72.83 79.5,75.84 80.0,78.30 80.5,79.42 81.0,79.98 81.5,80.37 82.0,80.52 82.5,80.37 83.0,80.66 83.5,80.45 84.0,80.25 84.5,80.18 85.0,79.68 85.5,78.99 86.0,77.02 86.5,74.10 87.0,70.40 87.5,66.94 88.0,64.92 88.5,66.53 89.0,70.27 89.5,74.07 90.0,76.89 90.5,78.41 91.0,79.01 91.5,79.21 92.0,79.54 92.5,79.20 93.0,78.55 93.5,76.98 94.0,73.47 94.5,68.87 95.0,62.33 95.5,56.88 96.0,55.33 96.5,58.44 97.0,65.27 97.5,70.63 98.0,75.09 98.5,77.22 99.0,78.20 99.5,78.65 100.0,78.44 100.5,77.43 101.0,75.26 101.5,71.89 102.0,65.40 102.5,57.68 103.0,50.78 103.5,48.03 104.0,51.87 104.5,59.07 105.0,66.05 105.5,71.68 106.0,75.33 106.5,77.66 107.0,79.26 107.5,79.82 108.0,80.44 108.5,80.66 109.0,80.78 109.5,80.95 110.0,80.97 110.5,81.22 111.0,80.71 111.5,81.00 112.0,81.23 112.5,81.50 113.0,80.95 113.5,81.18 114.0,81.37 114.5,81.54 115.0,81.25 115.5,80.99 116.0,81.42 116.5,81.51 117.0,81.46 117.5,81.46 118.0,81.50 118.5,81.27 119.0,81.50 119.5,81.54 120.0,81.39 120.5,81.23 121.0,81.27 121.5,81.48 122.0,81.22 122.5,81.53 123.0,81.31 123.5,81.19 124.0,81.31 124.5,81.06 125.0,81.28 125.5,80.84 126.0,79.81 126.5,78.57 127.0,76.03 127.5,73.27 128.0,69.60 128.5,67.08 129.0,67.11 129.5,70.49 130.0,74.06 130.5,76.84 131.0,78.87 131.5,80.04 132.0,80.83 132.5,81.02 133.0,81.09 133.5,81.15 134.0,81.02 134.5,81.20 135.0,81.03 135.5,81.53 136.0,81.36 136.5,81.37 137.0,81.30 137.5,81.19 138.0,80.97 138.5,81.13 139.0,81.06 139.5,80.82 140.0,80.52 140.5,79.65 141.0,78.10 141.5,76.87 142.0,76.47 142.5,76.25 143.0,77.72 143.5,79.20 144.0,80.12 144.5,80.69 145.0,81.24 145.5,81.20 146.0,81.25 146.5,81.48 147.0,81.45 147.5,81.60 148.0,81.72 148.5,81.77 149.0,81.11 149.5,81.60 150.0,81.65 150.5,81.70 151.0,81.50 151.5,81.50 152.0,81.62 152.5,81.41 153.0,81.25 153.5,81.66 154.0,81.64 154.5,81.29 155.0,81.65 155.5,81.23 156.0,81.30 156.5,80.70 157.0,80.38 157.5,79.47 158.0,78.65 158.5,78.20 159.0,78.33 159.5,78.74 160.0,80.04 160.5,80.36 161.0,80.72 161.5,81.22 162.0,81.75 162.5,81.39 163.0,81.27 163.5,81.41 164.0,81.61 164.5,81.66 165.0,81.65 165.5,81.76 166.0,81.94 166.5,81.61 167.0,81.67 167.5,81.60 168.0,81.66 168.5,81.81 169.0,81.66 169.5,81.42 170.0,81.75 170.5,81.85 171.0,81.62 171.5,81.90 172.0,81.74 172.5,81.29 173.0,81.45 173.5,81.31 174.0,81.39 174.5,81.29 175.0,81.43 175.5,81.42 176.0,80.80 176.5,80.94 177.0,80.11 177.5,79.13 178.0,77.22 178.5,75.00 179.0,74.10 179.5,74.35 180.0,75.83 180.5,77.63 181.0,79.05 181.5,80.13 182.0,80.75 182.5,81.00 183.0,81.34 183.5,81.47 184.0,81.60 184.5,81.55 185.0,81.49 185.5,81.64 186.0,81.54 186.5,81.38 187.0,81.73 187.5,81.57 188.0,81.57 188.5,81.80 189.0,81.69 189.5,81.71 190.0,81.95 190.5,81.81 191.0,81.75 191.5,81.62 192.0,81.25 192.5,81.17 193.0,81.43 193.5,82.00 194.0,81.56 194.5,81.51 195.0,81.68 195.5,81.78 196.0,81.64 196.5,81.66 197.0,81.61 197.5,81.47 198.0,81.42 198.5,81.10 199.0,81.46 199.5,81.43 200.0,81.44 200.5,81.50 201.0,80.98 201.5,80.78 202.0,80.66 202.5,79.40 203.0,78.34 203.5,76.50 204.0,74.85 204.5,73.83 205.0,74.83 205.5,76.21 206.0,78.33 206.5,79.52 207.0,80.24 207.5,80.70 208.0,80.95 208.5,80.31 209.0,79.84 209.5,78.47 210.0,77.07 210.5,74.90 211.0,72.94 211.5,72.88 212.0,74.21 212.5,76.55 213.0,78.66 213.5,79.73 214.0,80.60 214.5,80.70 215.0,81.48 215.5,81.07 216.0,81.36 216.5,81.31 217.0,81.59 217.5,81.39 218.0,81.37 218.5,81.21 219.0,81.66 219.5,81.14 220.0,81.72 220.5,81.66 221.0,81.73 221.5,81.21 222.0,81.18 222.5,81.20 223.0,81.07 223.5,80.13 224.0,79.58 224.5,77.85 225.0,76.82 225.5,75.92 226.0,76.29 226.5,77.44 227.0,78.92 227.5,79.53 228.0,80.60 228.5,80.43 229.0,80.23 229.5,79.59 230.0,79.25 230.5,78.86 231.0,78.92 231.5,79.43 232.0,80.59 232.5,80.77 233.0,81.27 233.5,81.31 234.0,81.65 234.5,81.75 235.0,81.73 235.5,81.85 236.0,81.88 236.5,81.22 237.0,81.49 237.5,81.40 238.0,81.73 238.5,81.68 239.0,81.42 239.5,81.92 240.0,81.67 240.5,81.93 241.0,81.54 241.5,81.80 242.0,81.88 242.5,81.59 243.0,81.72 243.5,81.66 244.0,81.59 244.5,81.72 245.0,81.32 245.5,81.79 246.0,81.68 246.5,81.44 247.0,81.78 247.5,81.31 248.0,81.46 248.5,81.87 249.0,81.75 249.5,81.54 250.0,81.91 250.5,81.60 251.0,81.62 251.5,81.66 252.0,81.77 252.5,81.74 253.0,81.48 253.5,81.57 254.0,81.74 254.5,81.84 255.0,81.68 255.5,81.78 256.0,81.77 256.5,81.44 257.0,81.57 257.5,81.97 258.0,81.53 258.5,81.69 259.0,81.31 259.5,82.05 260.0,81.34 260.5,81.54 261.0,81.41 261.5,80.86 262.0,80.70 262.5,80.17 263.0,78.57 263.5,77.09 264.0,75.04 264.5,74.26 265.0,74.92 265.5,75.97 266.0,78.08 266.5,79.40 267.0,80.31 267.5,81.01 268.0,81.29 268.5,81.46 269.0,81.52 269.5,81.10 270.0,81.43 270.5,81.17 271.0,81.61 271.5,81.72 272.0,81.63 272.5,81.50 273.0,81.66 273.5,81.74 274.0,81.70 274.5,81.50 275.0,81.53 275.5,81.81 276.0,81.58 276.5,81.59 277.0,81.54 277.5,81.58 278.0,81.44 278.5,81.04 279.0,80.60 279.5,79.98 280.0,79.35 280.5,78.95 281.0,78.66 281.5,79.74 282.0,79.99 282.5,80.79 283.0,80.98 283.5,81.30 284.0,81.49 284.5,81.65 285.0,81.63 285.5,81.75 286.0,81.56 286.5,81.91 287.0,81.36 287.5,81.69 288.0,81.70 288.5,81.57 289.0,81.65 289.5,81.51 290.0,81.73 290.5,81.59 291.0,81.80 291.5,81.73 292.0,81.74 292.5,81.69 293.0,81.52 293.5,81.80 294.0,81.82 294.5,81.62 295.0,81.49 295.5,81.56 296.0,81.86 296.5,81.39 297.0,81.74 297.5,81.62 298.0,81.81 298.5,81.43 299.0,81.76 299.5,81.50 300.0,81.77 300.5,81.98 301.0,81.64 301.5,82.01 302.0,81.69 302.5,81.81 303.0,82.08 303.5,81.86 304.0,81.77 304.5,81.27 305.0,81.54 305.5,81.75 306.0,81.55 306.5,81.51 307.0,81.76 307.5,81.42 308.0,81.47 308.5,81.79 309.0,82.01 309.5,81.52 310.0,81.67 310.5,81.74 311.0,81.52 311.5,81.46 312.0,81.64 312.5,81.30 313.0,81.20 313.5,81.38 314.0,80.33 314.5,80.57 315.0,80.18 315.5,79.86 316.0,81.52 316.5,82.99"/>
<line x1="56.3" y1="48.5" x2="56.3" y2="259" stroke="#262626" stroke-width="1.4" stroke-dasharray="4.1 4.06"/>
<line x1="86.4" y1="56.66" x2="86.4" y2="259" stroke="#262626" stroke-width="1.4" stroke-dasharray="4.1 4.06"/>
<line x1="103.2" y1="48.5" x2="103.2" y2="259" stroke="#262626" stroke-width="1.4" stroke-dasharray="4.1 4.06"/>
<line x1="159.2" y1="48.5" x2="159.2" y2="259" stroke="#262626" stroke-width="1.4" stroke-dasharray="4.1 4.06"/>
<line x1="171.2" y1="48.5" x2="171.2" y2="259" stroke="#262626" stroke-width="1.4" stroke-dasharray="4.1 4.06"/>
<line x1="200.6" y1="48.5" x2="200.6" y2="259" stroke="#262626" stroke-width="1.4" stroke-dasharray="4.1 4.06"/>
<line x1="216.4" y1="48.5" x2="216.4" y2="259" stroke="#262626" stroke-width="1.4" stroke-dasharray="4.1 4.06"/>
<line x1="269.1" y1="48.5" x2="269.1" y2="259" stroke="#262626" stroke-width="1.4" stroke-dasharray="4.1 4.06"/>
<line x1="278.5" y1="48.5" x2="278.5" y2="259" stroke="#262626" stroke-width="1.4" stroke-dasharray="4.1 4.06"/>
<line x1="78.0" y1="51.6" x2="78.0" y2="242.6" stroke="#ee939b" stroke-width="1.25" stroke-dasharray="3.6 4.54"/>
<line x1="88.5" y1="51.6" x2="88.5" y2="242.6" stroke="#ee939b" stroke-width="1.25" stroke-dasharray="3.6 4.54"/>
<line x1="95.8" y1="51.6" x2="95.8" y2="242.6" stroke="#ee939b" stroke-width="1.25" stroke-dasharray="3.6 4.54"/>
<line x1="142.5" y1="51.6" x2="142.5" y2="242.6" stroke="#ee939b" stroke-width="1.25" stroke-dasharray="3.6 4.54"/>
<line x1="179.5" y1="51.6" x2="179.5" y2="242.6" stroke="#ee939b" stroke-width="1.25" stroke-dasharray="3.6 4.54"/>
<line x1="205.2" y1="51.6" x2="205.2" y2="242.6" stroke="#ee939b" stroke-width="1.25" stroke-dasharray="3.6 4.54"/>
<line x1="226.2" y1="51.6" x2="226.2" y2="242.6" stroke="#ee939b" stroke-width="1.25" stroke-dasharray="3.6 4.54"/>
<line x1="230.9" y1="51.6" x2="230.9" y2="242.6" stroke="#ee939b" stroke-width="1.25" stroke-dasharray="3.6 4.54"/>
<line x1="104.7" y1="68.7" x2="104.7" y2="202.6" stroke="#86b4ea" stroke-width="1.3" stroke-dasharray="4.0 4.14"/>
<line x1="129.4" y1="68.7" x2="129.4" y2="202.6" stroke="#86b4ea" stroke-width="1.3" stroke-dasharray="4.0 4.14"/>
<line x1="211.8" y1="68.7" x2="211.8" y2="202.6" stroke="#86b4ea" stroke-width="1.3" stroke-dasharray="4.0 4.14"/>
<line x1="264.6" y1="68.7" x2="264.6" y2="202.6" stroke="#86b4ea" stroke-width="1.3" stroke-dasharray="4.0 4.14"/>
<text transform="translate(319.2,253.3) scale(0.92,1)" text-anchor="end" font-size="8.45" fill="#262626">FTO</text>
<rect x="266.6" y="222.6" width="54" height="9.0" fill="#fff"/>
<text transform="translate(319.2,229.2) scale(0.92,1)" text-anchor="end" font-size="8.45" fill="#262626">FTO/ZnO/Ag-0</text>
<rect x="266.6" y="188.9" width="54" height="9.0" fill="#fff"/>
<text transform="translate(319.2,195.5) scale(0.92,1)" text-anchor="end" font-size="8.45" fill="#262626">FTO/ZnO/Ag-2</text>
<rect x="266.6" y="160.0" width="54" height="9.0" fill="#fff"/>
<text transform="translate(319.2,166.6) scale(0.92,1)" text-anchor="end" font-size="8.45" fill="#262626">FTO/ZnO/Ag-4</text>
<rect x="266.6" y="118.2" width="54" height="9.0" fill="#fff"/>
<text transform="translate(319.2,124.8) scale(0.92,1)" text-anchor="end" font-size="8.45" fill="#262626">FTO/ZnO/Ag-6</text>
<rect x="266.6" y="66.3" width="54" height="9.0" fill="#fff"/>
<text transform="translate(319.2,72.9) scale(0.92,1)" text-anchor="end" font-size="8.45" fill="#262626">FTO/ZnO/Ag-8</text>
<text transform="translate(58.2,46.4) rotate(-90) scale(0.87,1)" font-size="6.1" fill="#262626" stroke="#262626" stroke-width="0.28">(110) SnO<tspan font-size="4.2" dy="1.1">2</tspan></text>
<text transform="translate(86.3,46.4) rotate(-90) scale(0.87,1)" font-size="6.1" fill="#262626" stroke="#262626" stroke-width="0.28">(101) SnO<tspan font-size="4.2" dy="1.1">2</tspan></text>
<text transform="translate(104.3,46.4) rotate(-90) scale(0.87,1)" font-size="6.1" fill="#262626" stroke="#262626" stroke-width="0.28">(200) SnO<tspan font-size="4.2" dy="1.1">2</tspan></text>
<text transform="translate(161.3,46.4) rotate(-90) scale(0.87,1)" font-size="6.1" fill="#262626" stroke="#262626" stroke-width="0.28">(211) SnO<tspan font-size="4.2" dy="1.1">2</tspan></text>
<text transform="translate(173.0,46.4) rotate(-90) scale(0.87,1)" font-size="6.1" fill="#262626" stroke="#262626" stroke-width="0.28">(220) SnO<tspan font-size="4.2" dy="1.1">2</tspan></text>
<text transform="translate(202.3,46.4) rotate(-90) scale(0.87,1)" font-size="6.1" fill="#262626" stroke="#262626" stroke-width="0.28">(310) SnO<tspan font-size="4.2" dy="1.1">2</tspan></text>
<text transform="translate(217.4,46.4) rotate(-90) scale(0.87,1)" font-size="6.1" fill="#262626" stroke="#262626" stroke-width="0.28">(301) SnO<tspan font-size="4.2" dy="1.1">2</tspan></text>
<text transform="translate(270.6,46.4) rotate(-90) scale(0.87,1)" font-size="6.1" fill="#262626" stroke="#262626" stroke-width="0.28">(321) SnO<tspan font-size="4.2" dy="1.1">2</tspan></text>
<text transform="translate(280.1,46.4) rotate(-90) scale(0.87,1)" font-size="6.1" fill="#262626" stroke="#262626" stroke-width="0.28">(202) SnO<tspan font-size="4.2" dy="1.1">2</tspan></text>
<text transform="translate(79.6,53.0) rotate(-90) scale(0.87,1)" font-size="6.1" fill="#d0404a" stroke="#d0404a" stroke-width="0.28">(100) ZnO</text>
<text transform="translate(91.3,53.0) rotate(-90) scale(0.87,1)" font-size="6.1" fill="#d0404a" stroke="#d0404a" stroke-width="0.28">(002) ZnO</text>
<text transform="translate(97.8,53.0) rotate(-90) scale(0.87,1)" font-size="6.1" fill="#d0404a" stroke="#d0404a" stroke-width="0.28">(101) ZnO</text>
<text transform="translate(143.6,53.0) rotate(-90) scale(0.87,1)" font-size="6.1" fill="#d0404a" stroke="#d0404a" stroke-width="0.28">(102) ZnO</text>
<text transform="translate(181.7,53.0) rotate(-90) scale(0.87,1)" font-size="6.1" fill="#d0404a" stroke="#d0404a" stroke-width="0.28">(110) ZnO</text>
<text transform="translate(206.6,53.0) rotate(-90) scale(0.87,1)" font-size="6.1" fill="#d0404a" stroke="#d0404a" stroke-width="0.28">(103) ZnO</text>
<text transform="translate(227.3,53.0) rotate(-90) scale(0.87,1)" font-size="6.1" fill="#d0404a" stroke="#d0404a" stroke-width="0.28">(112) ZnO</text>
<text transform="translate(234.0,53.0) rotate(-90) scale(0.87,1)" font-size="6.1" fill="#d0404a" stroke="#d0404a" stroke-width="0.28">(201) ZnO</text>
<text transform="translate(110.3,66.0) rotate(-90) scale(0.87,1)" font-size="6.1" fill="#3a74c0" stroke="#3a74c0" stroke-width="0.28">(111) Ag</text>
<text transform="translate(131.6,66.0) rotate(-90) scale(0.87,1)" font-size="6.1" fill="#3a74c0" stroke="#3a74c0" stroke-width="0.28">(200) Ag</text>
<text transform="translate(214.0,66.0) rotate(-90) scale(0.87,1)" font-size="6.1" fill="#3a74c0" stroke="#3a74c0" stroke-width="0.28">(220) Ag</text>
<text transform="translate(266.7,66.0) rotate(-90) scale(0.87,1)" font-size="6.1" fill="#3a74c0" stroke="#3a74c0" stroke-width="0.28">(311) Ag</text>
<g stroke="#2e2e2e" stroke-width="1.3" fill="none">
<line x1="30.5" y1="48.1" x2="30.5" y2="260.1"/>
<line x1="29.9" y1="259.5" x2="317.6" y2="259.5"/>
<line x1="30.50" y1="259.5" x2="30.50" y2="263.6"/>
<line x1="34.59" y1="259.5" x2="34.59" y2="261.7"/>
<line x1="38.69" y1="259.5" x2="38.69" y2="261.7"/>
<line x1="42.78" y1="259.5" x2="42.78" y2="261.7"/>
<line x1="46.87" y1="259.5" x2="46.87" y2="261.7"/>
<line x1="50.96" y1="259.5" x2="50.96" y2="261.7"/>
<line x1="55.06" y1="259.5" x2="55.06" y2="261.7"/>
<line x1="59.15" y1="259.5" x2="59.15" y2="261.7"/>
<line x1="63.24" y1="259.5" x2="63.24" y2="261.7"/>
<line x1="67.34" y1="259.5" x2="67.34" y2="261.7"/>
<line x1="71.43" y1="259.5" x2="71.43" y2="263.6"/>
<line x1="75.52" y1="259.5" x2="75.52" y2="261.7"/>
<line x1="79.61" y1="259.5" x2="79.61" y2="261.7"/>
<line x1="83.71" y1="259.5" x2="83.71" y2="261.7"/>
<line x1="87.80" y1="259.5" x2="87.80" y2="261.7"/>
<line x1="91.89" y1="259.5" x2="91.89" y2="261.7"/>
<line x1="95.99" y1="259.5" x2="95.99" y2="261.7"/>
<line x1="100.08" y1="259.5" x2="100.08" y2="261.7"/>
<line x1="104.17" y1="259.5" x2="104.17" y2="261.7"/>
<line x1="108.26" y1="259.5" x2="108.26" y2="261.7"/>
<line x1="112.36" y1="259.5" x2="112.36" y2="263.6"/>
<line x1="116.45" y1="259.5" x2="116.45" y2="261.7"/>
<line x1="120.54" y1="259.5" x2="120.54" y2="261.7"/>
<line x1="124.64" y1="259.5" x2="124.64" y2="261.7"/>
<line x1="128.73" y1="259.5" x2="128.73" y2="261.7"/>
<line x1="132.82" y1="259.5" x2="132.82" y2="261.7"/>
<line x1="136.91" y1="259.5" x2="136.91" y2="261.7"/>
<line x1="141.01" y1="259.5" x2="141.01" y2="261.7"/>
<line x1="145.10" y1="259.5" x2="145.10" y2="261.7"/>
<line x1="149.19" y1="259.5" x2="149.19" y2="261.7"/>
<line x1="153.29" y1="259.5" x2="153.29" y2="263.6"/>
<line x1="157.38" y1="259.5" x2="157.38" y2="261.7"/>
<line x1="161.47" y1="259.5" x2="161.47" y2="261.7"/>
<line x1="165.56" y1="259.5" x2="165.56" y2="261.7"/>
<line x1="169.66" y1="259.5" x2="169.66" y2="261.7"/>
<line x1="173.75" y1="259.5" x2="173.75" y2="261.7"/>
<line x1="177.84" y1="259.5" x2="177.84" y2="261.7"/>
<line x1="181.94" y1="259.5" x2="181.94" y2="261.7"/>
<line x1="186.03" y1="259.5" x2="186.03" y2="261.7"/>
<line x1="190.12" y1="259.5" x2="190.12" y2="261.7"/>
<line x1="194.21" y1="259.5" x2="194.21" y2="263.6"/>
<line x1="198.31" y1="259.5" x2="198.31" y2="261.7"/>
<line x1="202.40" y1="259.5" x2="202.40" y2="261.7"/>
<line x1="206.49" y1="259.5" x2="206.49" y2="261.7"/>
<line x1="210.59" y1="259.5" x2="210.59" y2="261.7"/>
<line x1="214.68" y1="259.5" x2="214.68" y2="261.7"/>
<line x1="218.77" y1="259.5" x2="218.77" y2="261.7"/>
<line x1="222.86" y1="259.5" x2="222.86" y2="261.7"/>
<line x1="226.96" y1="259.5" x2="226.96" y2="261.7"/>
<line x1="231.05" y1="259.5" x2="231.05" y2="261.7"/>
<line x1="235.14" y1="259.5" x2="235.14" y2="263.6"/>
<line x1="239.24" y1="259.5" x2="239.24" y2="261.7"/>
<line x1="243.33" y1="259.5" x2="243.33" y2="261.7"/>
<line x1="247.42" y1="259.5" x2="247.42" y2="261.7"/>
<line x1="251.51" y1="259.5" x2="251.51" y2="261.7"/>
<line x1="255.61" y1="259.5" x2="255.61" y2="261.7"/>
<line x1="259.70" y1="259.5" x2="259.70" y2="261.7"/>
<line x1="263.79" y1="259.5" x2="263.79" y2="261.7"/>
<line x1="267.89" y1="259.5" x2="267.89" y2="261.7"/>
<line x1="271.98" y1="259.5" x2="271.98" y2="261.7"/>
<line x1="276.07" y1="259.5" x2="276.07" y2="263.6"/>
<line x1="280.16" y1="259.5" x2="280.16" y2="261.7"/>
<line x1="284.26" y1="259.5" x2="284.26" y2="261.7"/>
<line x1="288.35" y1="259.5" x2="288.35" y2="261.7"/>
<line x1="292.44" y1="259.5" x2="292.44" y2="261.7"/>
<line x1="296.54" y1="259.5" x2="296.54" y2="261.7"/>
<line x1="300.63" y1="259.5" x2="300.63" y2="261.7"/>
<line x1="304.72" y1="259.5" x2="304.72" y2="261.7"/>
<line x1="308.81" y1="259.5" x2="308.81" y2="261.7"/>
<line x1="312.91" y1="259.5" x2="312.91" y2="261.7"/>
<line x1="317.00" y1="259.5" x2="317.00" y2="263.6"/>
<line x1="26.2" y1="48.2" x2="30.5" y2="48.2"/>
<line x1="28.2" y1="83.1" x2="30.5" y2="83.1"/>
<line x1="26.2" y1="118.5" x2="30.5" y2="118.5"/>
<line x1="28.2" y1="153.9" x2="30.5" y2="153.9"/>
<line x1="26.2" y1="189.3" x2="30.5" y2="189.3"/>
<line x1="28.2" y1="224.5" x2="30.5" y2="224.5"/>
</g>
<text transform="translate(30.50,273.5) scale(0.9,1)" text-anchor="middle" font-size="9.6" fill="#262626">20</text>
<text transform="translate(71.43,273.5) scale(0.9,1)" text-anchor="middle" font-size="9.6" fill="#262626">30</text>
<text transform="translate(112.36,273.5) scale(0.9,1)" text-anchor="middle" font-size="9.6" fill="#262626">40</text>
<text transform="translate(153.29,273.5) scale(0.9,1)" text-anchor="middle" font-size="9.6" fill="#262626">50</text>
<text transform="translate(194.21,273.5) scale(0.9,1)" text-anchor="middle" font-size="9.6" fill="#262626">60</text>
<text transform="translate(235.14,273.5) scale(0.9,1)" text-anchor="middle" font-size="9.6" fill="#262626">70</text>
<text transform="translate(276.07,273.5) scale(0.9,1)" text-anchor="middle" font-size="9.6" fill="#262626">80</text>
<text transform="translate(317.00,273.5) scale(0.9,1)" text-anchor="middle" font-size="9.6" fill="#262626">90</text>
<text x="173.6" y="292.1" text-anchor="middle" font-size="12.8" fill="#1a1a1a">2 theta (deg)</text>
<text transform="translate(14.0,153.0) rotate(-90)" text-anchor="middle" font-size="13.0" fill="#1a1a1a">XRD intensity (cps)</text>
<text x="3.4" y="14.1" font-size="15.8" letter-spacing="0.9" fill="#1a1a1a">(A)</text>
<g stroke="#1a1a1a" stroke-width="1.4" fill="none">
<line x1="391.4" y1="25.4" x2="391.4" y2="255.6"/>
<line x1="390.7" y1="254.9" x2="677.0" y2="254.9"/>
<line x1="387.4" y1="254.90" x2="391.4" y2="254.90"/>
<line x1="389.4" y1="240.56" x2="391.4" y2="240.56"/>
<line x1="387.4" y1="226.21" x2="391.4" y2="226.21"/>
<line x1="389.4" y1="211.87" x2="391.4" y2="211.87"/>
<line x1="387.4" y1="197.53" x2="391.4" y2="197.53"/>
<line x1="389.4" y1="183.18" x2="391.4" y2="183.18"/>
<line x1="387.4" y1="168.84" x2="391.4" y2="168.84"/>
<line x1="389.4" y1="154.49" x2="391.4" y2="154.49"/>
<line x1="387.4" y1="140.15" x2="391.4" y2="140.15"/>
<line x1="389.4" y1="125.81" x2="391.4" y2="125.81"/>
<line x1="387.4" y1="111.46" x2="391.4" y2="111.46"/>
<line x1="389.4" y1="97.12" x2="391.4" y2="97.12"/>
<line x1="387.4" y1="82.78" x2="391.4" y2="82.78"/>
<line x1="389.4" y1="68.43" x2="391.4" y2="68.43"/>
<line x1="387.4" y1="54.09" x2="391.4" y2="54.09"/>
<line x1="389.4" y1="39.74" x2="391.4" y2="39.74"/>
<line x1="387.4" y1="25.40" x2="391.4" y2="25.40"/>
<line x1="391.40" y1="254.9" x2="391.40" y2="258.7"/>
<line x1="415.14" y1="254.9" x2="415.14" y2="256.7"/>
<line x1="438.88" y1="254.9" x2="438.88" y2="258.7"/>
<line x1="462.62" y1="254.9" x2="462.62" y2="256.7"/>
<line x1="486.37" y1="254.9" x2="486.37" y2="258.7"/>
<line x1="510.11" y1="254.9" x2="510.11" y2="256.7"/>
<line x1="533.85" y1="254.9" x2="533.85" y2="258.7"/>
<line x1="557.59" y1="254.9" x2="557.59" y2="256.7"/>
<line x1="581.33" y1="254.9" x2="581.33" y2="258.7"/>
<line x1="605.07" y1="254.9" x2="605.07" y2="256.7"/>
<line x1="628.82" y1="254.9" x2="628.82" y2="258.7"/>
<line x1="652.56" y1="254.9" x2="652.56" y2="256.7"/>
<line x1="676.30" y1="254.9" x2="676.30" y2="258.7"/>
</g>
<text transform="translate(383.4,257.00) scale(0.96,1)" text-anchor="end" font-size="9.8" fill="#262626">0.000</text>
<text transform="translate(383.4,228.31) scale(0.96,1)" text-anchor="end" font-size="9.8" fill="#262626">0.002</text>
<text transform="translate(383.4,199.62) scale(0.96,1)" text-anchor="end" font-size="9.8" fill="#262626">0.004</text>
<text transform="translate(383.4,170.94) scale(0.96,1)" text-anchor="end" font-size="9.8" fill="#262626">0.006</text>
<text transform="translate(383.4,142.25) scale(0.96,1)" text-anchor="end" font-size="9.8" fill="#262626">0.008</text>
<text transform="translate(383.4,113.56) scale(0.96,1)" text-anchor="end" font-size="9.8" fill="#262626">0.010</text>
<text transform="translate(383.4,84.88) scale(0.96,1)" text-anchor="end" font-size="9.8" fill="#262626">0.012</text>
<text transform="translate(383.4,56.19) scale(0.96,1)" text-anchor="end" font-size="9.8" fill="#262626">0.014</text>
<text transform="translate(383.4,27.50) scale(0.96,1)" text-anchor="end" font-size="9.8" fill="#262626">0.016</text>
<text transform="translate(391.10,269.6) scale(0.9,1)" text-anchor="middle" font-size="10.1" fill="#262626">0.0</text>
<text transform="translate(438.58,269.6) scale(0.9,1)" text-anchor="middle" font-size="10.1" fill="#262626">0.1</text>
<text transform="translate(486.07,269.6) scale(0.9,1)" text-anchor="middle" font-size="10.1" fill="#262626">0.2</text>
<text transform="translate(533.55,269.6) scale(0.9,1)" text-anchor="middle" font-size="10.1" fill="#262626">0.3</text>
<text transform="translate(581.03,269.6) scale(0.9,1)" text-anchor="middle" font-size="10.1" fill="#262626">0.4</text>
<text transform="translate(628.52,269.6) scale(0.9,1)" text-anchor="middle" font-size="10.1" fill="#262626">0.5</text>
<text transform="translate(676.00,269.6) scale(0.9,1)" text-anchor="middle" font-size="10.1" fill="#262626">0.6</text>
<text x="337.6" y="13.45" font-size="15.8" letter-spacing="0.6" fill="#1a1a1a">(B)</text>
<text x="533.5" y="292.3" text-anchor="middle" font-size="13.8" fill="#1a1a1a">sin<tspan font-family="Liberation Serif">(θ)</tspan> (-)</text>
<text transform="translate(356.3,139.0) rotate(-90)" text-anchor="middle" font-size="13.8" fill="#1a1a1a"><tspan font-family="Liberation Serif">β</tspan>·cos<tspan font-family="Liberation Serif">(θ)</tspan> (rad)</text>
<circle cx="520.9" cy="130.9" r="3.75" fill="#000"/>
<circle cx="531.3" cy="119.4" r="3.75" fill="#000"/>
<circle cx="538.7" cy="112.0" r="3.75" fill="#000"/>
<circle cx="582.2" cy="77.3" r="3.75" fill="#000"/>
<circle cx="615.9" cy="57.7" r="3.75" fill="#000"/>
<circle cx="638.3" cy="47.7" r="3.75" fill="#000"/>
<circle cx="656.6" cy="41.8" r="3.75" fill="#000"/>
<circle cx="660.2" cy="40.3" r="3.75" fill="#000"/>
<line x1="391.9" y1="208.6" x2="660.0" y2="36.1" stroke="#e02020" stroke-width="2.0" stroke-dasharray="9.5 7.68" stroke-dashoffset="2.69"/>
<line x1="522.5" y1="177.6" x2="478.43" y2="164.34" stroke="#111" stroke-width="1.25"/>
<path d="M472.3,162.5 L481.19,162.07 L478.43,164.34 L479.48,167.76 Z" fill="#111"/>
<line x1="476.5" y1="237.4" x2="400.78" y2="212.59" stroke="#111" stroke-width="1.25"/>
<path d="M394.7,210.6 L403.60,210.39 L400.78,212.59 L401.75,216.04 Z" fill="#111"/>
<text transform="translate(534.07,172.40) scale(1.4426,1.2088)" font-size="10" font-family="Liberation Serif" font-style="italic" fill="#1a1a1a">dy</text>
<line x1="530.9" y1="179.2" x2="549.8" y2="179.2" stroke="#1a1a1a" stroke-width="1.0"/>
<text transform="translate(532.93,191.68) scale(1.5758,1.1915)" font-size="10" font-family="Liberation Serif" font-style="italic" fill="#1a1a1a">dx</text>
<line x1="556.0" y1="177.7" x2="565.8" y2="177.7" stroke="#1a1a1a" stroke-width="0.9"/>
<line x1="556.0" y1="180.4" x2="565.8" y2="180.4" stroke="#1a1a1a" stroke-width="0.9"/>
<text transform="translate(570.94,182.40) scale(1.2903,1.3536)" font-size="10" font-family="Liberation Serif" fill="#1a1a1a">4</text>
<circle cx="582.4" cy="179.3" r="0.8" fill="#1a1a1a"/>
<text transform="translate(588.17,182.29) scale(1.0864,1.1250)" font-size="10" font-family="Liberation Serif" font-style="italic" fill="#1a1a1a">ϵ</text>
<text transform="translate(483.34,240.29) scale(1.1374,1.2148)" font-size="10" font-family="Liberation Serif" font-style="italic" fill="#1a1a1a">y</text>
<text transform="translate(489.34,242.42) scale(0.9647,0.8000)" font-size="10" font-family="Liberation Serif" fill="#1a1a1a">0</text>
<line x1="499.3" y1="235.5" x2="509.0" y2="235.5" stroke="#1a1a1a" stroke-width="0.9"/>
<line x1="499.3" y1="238.5" x2="509.0" y2="238.5" stroke="#1a1a1a" stroke-width="0.9"/>
<text transform="translate(517.90,230.40) scale(1.5779,1.3435)" font-size="10" font-family="Liberation Serif" font-style="italic" fill="#1a1a1a">K</text>
<circle cx="534.6" cy="227.3" r="0.8" fill="#1a1a1a"/>
<text transform="translate(541.48,230.40) scale(1.5029,1.3050)" font-size="10" font-family="Liberation Serif" font-style="italic" fill="#1a1a1a">λ</text>
<line x1="515.7" y1="236.8" x2="549.2" y2="236.8" stroke="#1a1a1a" stroke-width="1.1"/>
<text transform="translate(521.66,249.67) scale(1.4815,1.2766)" font-size="10" font-family="Liberation Serif" font-style="italic" fill="#1a1a1a">d</text>
<text transform="translate(529.80,251.40) scale(1.0581,0.8489)" font-size="10" font-family="Liberation Serif" font-style="italic" fill="#1a1a1a">hkl</text>
</svg>
</body></html>
